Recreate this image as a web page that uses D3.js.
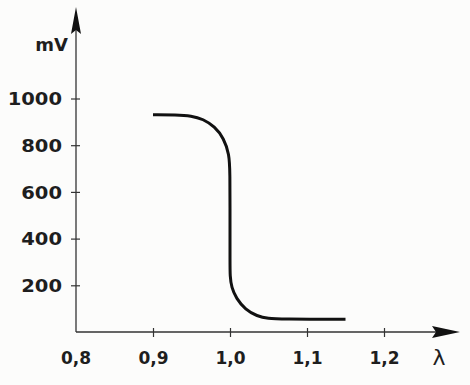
<!DOCTYPE html>
<html>
<head>
<meta charset="utf-8">
<script src="https://cdn.jsdelivr.net/npm/d3@7"></script>
<style>
  body { margin: 0; background: #fcfcfb; }
  svg { display: block; }
  .lbl { font-family: "DejaVu Sans", sans-serif; font-weight: bold; font-size: 17px; fill: #1e1e1e; }
</style>
</head>
<body>
<div id="chart"></div>
<script>
// lambda sensor voltage curve
const lambdaTicks = [0.8, 0.9, 1.0, 1.1, 1.2];
const mvTicks = [200, 400, 600, 800, 1000];
const tickText = ["0,8", "0,9", "1,0", "1,1", "1,2"];

const curveLambda = [0.90, 0.93, 0.95, 0.965, 0.98, 0.992, 0.999, 1.0, 1.0, 1.0, 1.0, 1.002, 1.008, 1.02, 1.035, 1.05, 1.065, 1.15];
const curveMv = [930, 930, 926, 912, 880, 830, 760, 690, 470, 300, 240, 190, 145, 95, 68, 57, 55, 55];

const width = 470, height = 385;
const margin = { top: 8, left: 76, right: 10, bottom: 53 };

const svg = d3.select("#chart").append("svg")
    .attr("width", width)
    .attr("height", height);

/*
SCALES
*/
const xScale = d3.scaleLinear().domain([0.8, 1.2]).range([margin.left, 384]);
const yScale = d3.scaleLinear().domain([0, 1000]).range([height - margin.bottom, 98.5]);

const x0 = xScale(0.8), y0 = yScale(0);
const axisColor = "#333";

/*
AXES
*/
const xAxis = svg.append("g")
    .attr("transform", `translate(0,${y0})`)
    .call(d3.axisBottom(xScale).tickValues(lambdaTicks.slice(1)).tickSize(4).tickFormat((d, i) => tickText[i + 1]));
xAxis.select(".domain").remove();
xAxis.selectAll(".tick line").attr("y1", -4).attr("y2", 5).attr("stroke", axisColor).attr("stroke-width", 1.2);
xAxis.selectAll(".tick text").attr("class", "lbl").attr("y", 32).attr("dy", 0);

// 0,8 label at the origin
svg.append("text")
    .attr("class", "lbl")
    .attr("x", x0)
    .attr("y", y0 + 32)
    .attr("text-anchor", "middle")
    .text(tickText[0]);

const yAxis = svg.append("g")
    .attr("transform", `translate(${x0},0)`)
    .call(d3.axisLeft(yScale).tickValues(mvTicks).tickSize(4).tickFormat(d3.format("d")));
yAxis.select(".domain").remove();
yAxis.selectAll(".tick line").attr("x1", -5).attr("x2", 4).attr("stroke", axisColor).attr("stroke-width", 1.2);
yAxis.selectAll(".tick text")
    .attr("class", "lbl")
    .attr("x", 0)
    .attr("dy", "0.36em")
    .attr("text-anchor", "end")
    .attr("transform", "translate(-14,0) scale(1.15,1)");

// axis lines with arrows
svg.append("line")
    .attr("x1", x0).attr("y1", y0).attr("x2", 440).attr("y2", y0)
    .attr("stroke", axisColor).attr("stroke-width", 1.3);
svg.append("line")
    .attr("x1", x0).attr("y1", y0).attr("x2", x0).attr("y2", 26)
    .attr("stroke", axisColor).attr("stroke-width", 1.3);

svg.append("path")
    .attr("d", `M460,${y0} L432,${y0 - 6} L436,${y0} L432,${y0 + 6} Z`)
    .attr("fill", "#111");
svg.append("path")
    .attr("d", `M${x0},7 L${x0 - 5},34 L${x0},30 L${x0 + 5},34 Z`)
    .attr("fill", "#111");

// axis titles
svg.append("text")
    .attr("class", "lbl")
    .attr("x", 68)
    .attr("y", 51)
    .attr("text-anchor", "end")
    .style("font-size", "18px")
    .text("mV");

svg.append("text")
    .attr("x", 439)
    .attr("y", 365)
    .attr("text-anchor", "middle")
    .style("font-family", "DejaVu Sans, sans-serif")
    .style("font-size", "22px")
    .style("fill", "#1e1e1e")
    .text("λ");

/*
CURVE
*/
const pts = curveLambda.map((l, i) => [l, curveMv[i]]);
const line = d3.line()
    .x(d => xScale(d[0]))
    .y(d => yScale(d[1]))
    .curve(d3.curveBasis);

svg.append("path")
    .datum(pts)
    .attr("d", line)
    .attr("fill", "none")
    .attr("stroke", "#111")
    .attr("stroke-width", 3);
</script>
</body>
</html>
